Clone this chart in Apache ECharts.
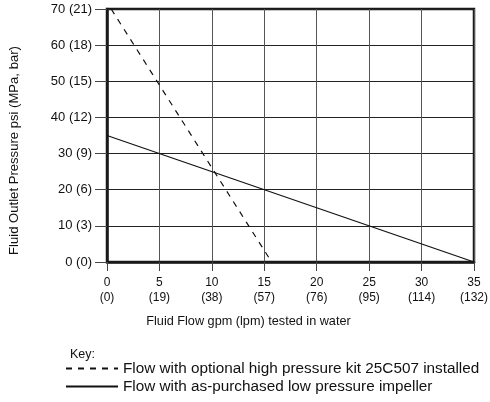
<!DOCTYPE html>
<html>
<head>
<meta charset="utf-8">
<script src="https://cdn.jsdelivr.net/npm/echarts@6/dist/echarts.min.js"></script>
<style>
  html, body { margin: 0; padding: 0; background: #fff; }
  #chart { width: 490px; height: 402px; }
</style>
</head>
<body>
<div id="chart"></div>
<script>
// tick labels
var flowGpm = [0, 5, 10, 15, 20, 25, 30, 35];
var flowLpm = [0, 19, 38, 57, 76, 95, 114, 132];
var pressPsi = [0, 10, 20, 30, 40, 50, 60, 70];
var pressBar = [0, 3, 6, 9, 12, 15, 18, 21];

// curves: [gpm, psi]
var highPressureKit = [[0.4, 70], [15.7, 0]];
var lowPressureImpeller = [[0, 35], [35, 0]];

var seriesNames = [
    'Flow with optional high pressure kit 25C507 installed',
    'Flow with as-purchased low pressure impeller'
];

var font = 'Liberation Sans, Arial, sans-serif';

var chart = echarts.init(document.getElementById('chart'));

chart.setOption({
    animation: false,
    textStyle: { fontFamily: font, color: '#111' },
    grid: {
        left: 107, right: 16, top: 9, bottom: 140,
        outerBoundsMode: 'none',
        containLabel: false,
        show: true, borderColor: '#1a1a1a', borderWidth: 2.5,
        backgroundColor: 'transparent'
    },
    graphic: [{
        type: 'text', left: 70, top: 348,
        style: { text: 'Key:', font: '12.5px ' + font, fill: '#111' }
    }],
    legend: {
        orient: 'vertical',
        left: 65, top: 361, padding: 0,
        itemWidth: 52, itemHeight: 14, itemGap: 3,
        itemStyle: { opacity: 0 },
        textStyle: { fontSize: 15.3, color: '#111', fontFamily: font },
        data: seriesNames
    },
    xAxis: {
        type: 'value', min: 0, max: 35, interval: 5,
        name: 'Fluid Flow gpm (lpm) tested in water',
        nameLocation: 'middle', nameGap: 53,
        nameTextStyle: { fontSize: 12.7, color: '#111', padding: [0, 84, 0, 0] },
        axisLine: { show: true, lineStyle: { color: '#1a1a1a', width: 2.5 } },
        axisTick: { show: true, length: 9, lineStyle: { color: '#444', width: 1 } },
        axisLabel: {
            fontSize: 12, color: '#111', margin: 13, lineHeight: 15,
            formatter: function (v) {
                var i = flowGpm.indexOf(v);
                return i < 0 ? '' : flowGpm[i] + '\n(' + flowLpm[i] + ')';
            }
        },
        splitLine: { show: true, lineStyle: { color: '#555', width: 1 } }
    },
    yAxis: {
        type: 'value', min: 0, max: 70, interval: 10,
        name: 'Fluid Outlet Pressure psi (MPa, bar)',
        nameLocation: 'middle', nameGap: 86,
        nameTextStyle: { fontSize: 13.1, color: '#111', padding: [0, 30, 0, 0] },
        axisLine: { show: true, lineStyle: { color: '#1a1a1a', width: 2.5 } },
        axisTick: { show: true, length: 12, lineStyle: { color: '#444', width: 1 } },
        axisLabel: {
            fontSize: 13, color: '#111', margin: 15,
            formatter: function (v) {
                var i = pressPsi.indexOf(v);
                return i < 0 ? '' : pressPsi[i] + ' (' + pressBar[i] + ')';
            }
        },
        splitLine: { show: true, lineStyle: { color: '#222', width: 1 } }
    },
    series: [{
        name: seriesNames[0],
        type: 'line',
        data: highPressureKit,
        symbol: 'none',
        lineStyle: { color: '#111', width: 1.2, type: [6, 6] },
        itemStyle: { color: '#111' }
    }, {
        name: seriesNames[1],
        type: 'line',
        data: lowPressureImpeller,
        symbol: 'none',
        lineStyle: { color: '#111', width: 1.2, type: 'solid' },
        itemStyle: { color: '#111' }
    }]
});
</script>
</body>
</html>
